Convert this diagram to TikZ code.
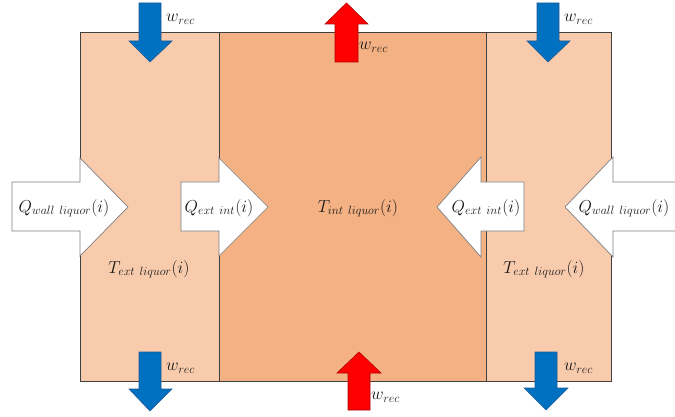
\documentclass[tikz,border=0pt]{standalone}
\usepackage{amsmath}
\DeclareMathSizes{16.5}{16.5}{12}{9}
\definecolor{peachA}{HTML}{F8CBAD}
\definecolor{peachB}{HTML}{F4B183}
\definecolor{edgegrey}{HTML}{404040}
\definecolor{arrblue}{HTML}{0070C0}
\definecolor{arrblueedge}{HTML}{1F5A96}
\definecolor{arrred}{HTML}{FF0000}
\definecolor{arrrededge}{HTML}{B00000}
\definecolor{whiteedge}{HTML}{7F7F7F}
\begin{document}
\begin{tikzpicture}[x=1pt,y=-1pt,
  panelA/.style={fill=peachA, draw=edgegrey, line width=0.7pt},
  panelB/.style={fill=peachB, draw=edgegrey, line width=0.7pt},
  bluearr/.style={fill=arrblue, draw=arrblueedge, line width=0.6pt, line join=miter},
  redarr/.style={fill=arrred, draw=arrrededge, line width=0.6pt, line join=miter},
  whitearr/.style={fill=white, draw=whiteedge, line width=0.7pt, line join=miter},
  lbl/.style={inner sep=0pt, font=\fontsize{16.5}{20}\selectfont, text=black!90}]
\useasboundingbox (0,0) rectangle (675,417);
\clip (0,0) rectangle (675,417);
% panels
\path[panelA] (80,32) rectangle (219.5,381);
\path[panelB] (219.5,32) rectangle (486,381);
\path[panelA] (486,32) rectangle (611,381);
% blue arrows (down)
\path[bluearr] (139,3) -- (161,3) -- (161,41) -- (172,41) -- (150,62) -- (129,41) -- (139,41) -- cycle;
\path[bluearr] (537,3) -- (559,3) -- (559,41) -- (570,41) -- (548,62) -- (527,41) -- (537,41) -- cycle;
\path[bluearr] (139,352) -- (161,352) -- (161,389) -- (172,389) -- (150,411) -- (129,389) -- (139,389) -- cycle;
\path[bluearr] (535,352) -- (557,352) -- (557,388) -- (568,388) -- (546,410) -- (524,388) -- (535,388) -- cycle;
% red arrows (up)
\path[redarr] (335,62) -- (358,62) -- (358,24) -- (368,24) -- (346.5,3) -- (325,24) -- (335,24) -- cycle;
\path[redarr] (348,410) -- (370,410) -- (370,373) -- (381,373) -- (359,352) -- (337,373) -- (348,373) -- cycle;
% white arrows
\path[whitearr] (12,182) -- (80,182) -- (80,158) -- (128,207) -- (80,256) -- (80,231) -- (12,231) -- cycle;
\path[whitearr] (181,182) -- (219,182) -- (219,158) -- (268,207) -- (219,256) -- (219,231) -- (181,231) -- cycle;
\path[whitearr] (524,182) -- (481,182) -- (481,157) -- (437,207) -- (481,257) -- (481,231) -- (524,231) -- cycle;
\path[whitearr] (690,182) -- (613,182) -- (613,157) -- (565,207) -- (613,257) -- (613,231) -- (690,231) -- cycle;
% labels
\node[lbl, anchor=west] (w1) at (166,19) {$w_{rec}$};
\node[lbl, anchor=west] (w2) at (564,19) {$w_{rec}$};
\node[lbl, anchor=west] (w3) at (166,368) {$w_{rec}$};
\node[lbl, anchor=west] (w4) at (564,368) {$w_{rec}$};
\node[lbl, anchor=west] (w5) at (359,47) {$w_{rec}$};
\node[lbl, anchor=west] (w6) at (371,397) {$w_{rec}$};
\node[lbl] (q1) at (64,208) {$Q_{wall\ liquor}(i)$};
\node[lbl] (q2) at (219,208) {$Q_{ext\ int}(i)$};
\node[lbl] (q3) at (486,208) {$Q_{ext\ int}(i)$};
\node[lbl] (q4) at (624,208) {$Q_{wall\ liquor}(i)$};
\node[lbl] (ti) at (358,208) {$T_{int\ liquor}(i)$};
\node[lbl] (te1) at (149,269) {$T_{ext\ liquor}(i)$};
\node[lbl] (te2) at (544,269) {$T_{ext\ liquor}(i)$};
\end{tikzpicture}
\end{document}
